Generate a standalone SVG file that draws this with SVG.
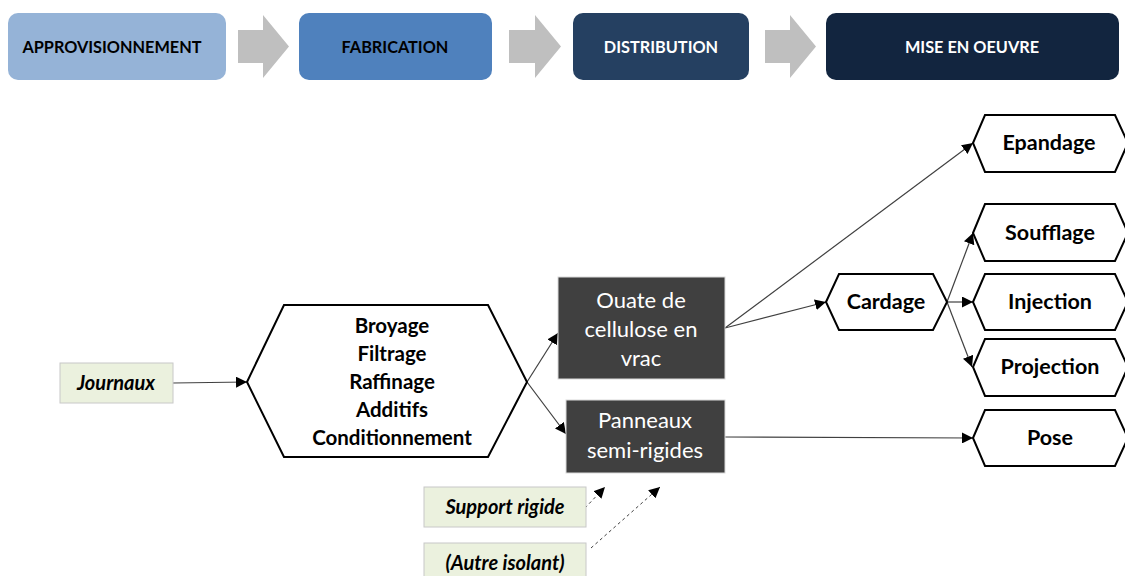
<svg xmlns="http://www.w3.org/2000/svg" width="1125" height="576" viewBox="0 0 1125 576">
<defs>
<marker id="ah" viewBox="0 0 10 10" refX="10" refY="5" markerWidth="11" markerHeight="11" markerUnits="userSpaceOnUse" orient="auto">
<path d="M0,0 L10,5 L0,10 z" fill="#000"/>
</marker>
</defs>
<style>
.phase text{font-family:Lato,"Liberation Sans",sans-serif;font-weight:bold;font-size:16.3px;text-anchor:middle;}
.chev{fill:#bfbfbf;}
.hex{fill:#fff;stroke:#000;stroke-width:2;}
.hx{font-family:Lato,"Liberation Sans",sans-serif;font-weight:bold;font-size:20.5px;text-anchor:middle;fill:#000;}
.rl{font-family:Lato,"Liberation Sans",sans-serif;font-weight:bold;font-size:21.5px;text-anchor:middle;fill:#000;}
.dk{fill:#404040;stroke:#d9d9d9;stroke-width:1;}
.wt{font-family:Lato,"Liberation Sans",sans-serif;font-size:22px;text-anchor:middle;fill:#fff;}
.inp{fill:#ebf1de;stroke:#c8c8c8;stroke-width:1;}
.it{font-family:Lato,"Liberation Sans",sans-serif;font-weight:bold;font-style:italic;font-size:20px;text-anchor:middle;fill:#000;}
.ln{fill:none;stroke:#404040;stroke-width:1.2;marker-end:url(#ah);}
.ds{fill:none;stroke:#404040;stroke-width:1;stroke-dasharray:3,3;marker-end:url(#ah);}
</style>

<g id="phases" class="phase">
<g id="p-approvisionnement"><rect x="8" y="13" width="218" height="67" rx="10" fill="#95b3d7"/><text x="112" y="53" fill="#000">APPROVISIONNEMENT</text></g>
<polygon class="chev" points="238,30 263,30 263,15 289,46.5 263,78 263,63 238,63"/>
<g id="p-fabrication"><rect x="299" y="13" width="193" height="67" rx="10" fill="#4f81bd"/><text x="395" y="53" fill="#000">FABRICATION</text></g>
<polygon class="chev" points="509,30 535,30 535,15 561,46.5 535,78 535,63 509,63"/>
<g id="p-distribution"><rect x="573" y="13" width="176" height="67" rx="10" fill="#254061"/><text x="661" y="53" fill="#fff">DISTRIBUTION</text></g>
<polygon class="chev" points="765,30 790,30 790,15 816,46.5 790,78 790,63 765,63"/>
<g id="p-mise"><rect x="826" y="13" width="293" height="67" rx="10" fill="#12253f"/><text x="972" y="53" fill="#fff">MISE EN OEUVRE</text></g>
</g>

<g id="connectors">
<line class="ln" x1="173" y1="383" x2="247" y2="382"/>
<line class="ln" x1="527" y1="382" x2="558" y2="333"/>
<line class="ln" x1="527" y1="382" x2="566" y2="434"/>
<line class="ln" x1="725" y1="328" x2="973" y2="143"/>
<line class="ln" x1="725" y1="328" x2="826" y2="302"/>
<line class="ln" x1="947" y1="302" x2="973" y2="233"/>
<line class="ln" x1="947" y1="302" x2="973" y2="302"/>
<line class="ln" x1="947" y1="302" x2="972" y2="367"/>
<line class="ln" x1="725" y1="437" x2="973" y2="438"/>
<line class="ds" x1="585" y1="508" x2="605" y2="487"/>
<line class="ds" x1="591" y1="548" x2="660" y2="487"/>
</g>

<g id="journaux"><rect class="inp" x="60" y="363" width="113" height="40"/><text class="it" x="116" y="390">Journaux</text></g>

<g id="fabrication-steps">
<polygon class="hex" points="247,382 284,305 488,305 527,382 488,457 284,457"/>
<text class="hx" x="392" y="333">Broyage</text>
<text class="hx" x="392" y="361">Filtrage</text>
<text class="hx" x="392" y="389">Raffinage</text>
<text class="hx" x="392" y="417">Additifs</text>
<text class="hx" x="392" y="445">Conditionnement</text>
</g>

<g id="ouate"><rect class="dk" x="558" y="277" width="167" height="102"/>
<text class="wt" x="641" y="308">Ouate de</text>
<text class="wt" x="641" y="337">cellulose en</text>
<text class="wt" x="641" y="366">vrac</text></g>

<g id="panneaux"><rect class="dk" x="566" y="400" width="159" height="73"/>
<text class="wt" x="645" y="428">Panneaux</text>
<text class="wt" x="645" y="458">semi-rigides</text></g>

<g id="support"><rect class="inp" x="424" y="487" width="162" height="40"/><text class="it" x="505" y="514">Support rigide</text></g>
<g id="autre"><rect class="inp" x="424" y="543" width="162" height="42"/><text class="it" x="505" y="570">(Autre isolant)</text></g>

<g id="cardage"><polygon class="hex" points="826,302 839,274 933,274 947,302 933,330 839,330"/><text class="rl" x="886" y="309">Cardage</text></g>
<g id="epandage"><polygon class="hex" points="973,143 985,115 1115,115 1128,143 1115,172 985,172"/><text class="rl" x="1049" y="150">Epandage</text></g>
<g id="soufflage"><polygon class="hex" points="973,233 985,204 1115,204 1128,233 1115,261 985,261"/><text class="rl" x="1050" y="240">Soufflage</text></g>
<g id="injection"><polygon class="hex" points="973,302 985,274 1115,274 1128,302 1115,330 985,330"/><text class="rl" x="1050" y="309">Injection</text></g>
<g id="projection"><polygon class="hex" points="973,367 985,339 1115,339 1128,367 1115,396 985,396"/><text class="rl" x="1050" y="374">Projection</text></g>
<g id="pose"><polygon class="hex" points="973,438 985,410 1115,410 1128,438 1115,466 985,466"/><text class="rl" x="1050" y="445">Pose</text></g>
</svg>
